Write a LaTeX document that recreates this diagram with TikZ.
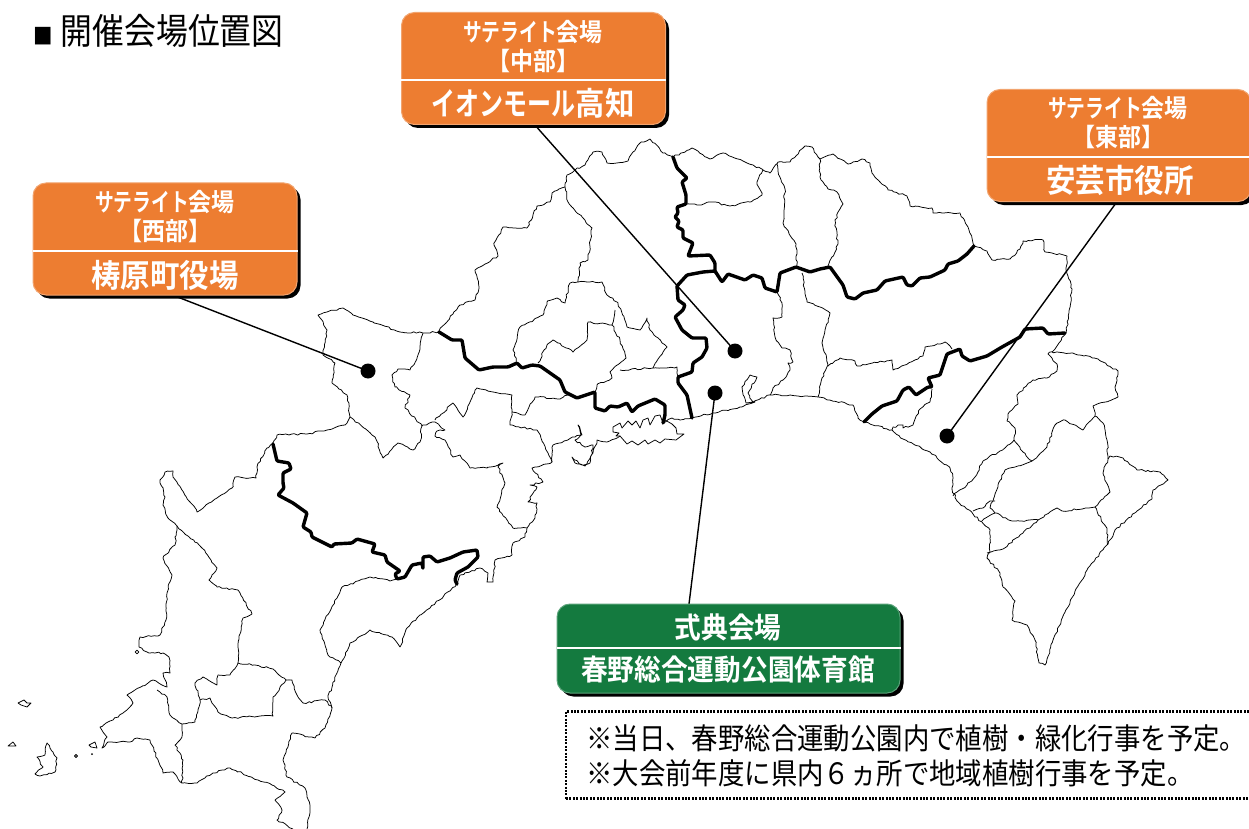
\documentclass[tikz,border=0pt]{standalone}
\usepackage{fontspec}
\usetikzlibrary{shadows,decorations.pathmorphing}
\newfontfamily\jpreg[FakeStretch=0.885]{Noto Sans CJK JP}
\newfontfamily\jpnote[FakeStretch=0.895]{Noto Sans CJK JP}
\newfontfamily\jpbold[FakeStretch=0.92]{Noto Sans CJK JP Bold}
\newfontfamily\jpkana[FakeStretch=0.75]{Noto Sans CJK JP Bold}
\definecolor{venueorange}{HTML}{ED7D31}
\definecolor{venuegreen}{HTML}{147A3F}
\tikzset{
  thinmap/.style={draw=black,line width=0.75pt,line join=round,
     decorate,decoration={random steps,segment length=3pt,amplitude=0.9pt}},
  closedmap/.style={draw=black,line width=0.75pt,line join=round},
  thickmap/.style={draw=black,line width=3.4pt,line join=round,line cap=round,rounded corners=1pt},
  leader/.style={draw=black,line width=1.4pt},
  venuedot/.style={circle,fill=black,minimum size=15pt,inner sep=0pt},
  venuebox/.style={rounded corners=13pt,inner sep=0pt,line width=1pt,
     copy shadow={shadow xshift=3.5pt,shadow yshift=-3.5pt,fill=black,draw=none}},
  orangebox/.style={venuebox,fill=venueorange,draw=venueorange!70!white,minimum width=264pt,minimum height=112pt},
  greenbox/.style={venuebox,fill=venuegreen,draw=venuegreen!70!white,minimum width=343pt,minimum height=89pt},
  sublabel/.style={text=white,font=\jpbold\fontsize{25}{28}\selectfont,inner sep=0pt},
  mainlabel/.style={text=white,font=\jpbold\fontsize{32}{36}\selectfont,inner sep=0pt},
  greenlabel/.style={text=white,font=\jpbold\fontsize{29}{32}\selectfont,inner sep=0pt},
  notetext/.style={anchor=west,inner sep=0pt,font=\jpnote\fontsize{29.5}{32}\selectfont},
  divider/.style={draw=white,line width=1.8pt},
}
\begin{document}
\begin{tikzpicture}[x=1pt,y=-1pt]
\useasboundingbox (0,0) rectangle (1249,829);
% ---------- thin map lines ----------
\draw[thinmap] (692,418)--(713,413)--(740,407)--(755,402)--(746,403)--(742,387)--(750,375)--(757,377)--(748,393)--(753,402)--(770,395)--(790,395)--(818,397)--(853,405)--(858,418)--(864,422)--(892,430)--(903,439)--(930,452)--(950,468)--(953,478)--(952,489)--(957,501)--(973,514)--(990,530)--(990,552)--(987,558)--(1000,573)--(1003,587)--(1015,601)--(1012,620)--(1027,625)--(1035,640)--(1039,663)--(1045,665)--(1053,640)--(1070,602)--(1088,568)--(1108,544)--(1115,530)--(1137,511)--(1152,499)--(1153,490)--(1168,480)--(1160,472)--(1137,470)--(1123,458)--(1110,456)--(1108,459);
\draw[thinmap] (974,246)--(987,251)--(992,260)--(1010,259)--(1020,249)--(1023,241)--(1043,240)--(1045,252)--(1067,256)--(1066,270)--(1072,289)--(1066,333)--(1055,349)--(1048,354)--(1057,364)--(1057,371)--(1047,378)--(1033,380)--(1017,395)--(1018,404)--(1008,414)--(1007,421)--(1015,428)--(1014,440)--(1000,451)--(983,461)--(975,477)--(967,485)--(957,492)--(953,496);
\draw[thinmap] (1014,440)--(1023,452)--(1032,461)--(1047,447)--(1055,425)--(1065,420)--(1083,430)--(1095,416)--(1093,406)--(1118,397)--(1115,387)--(1118,371)--(1098,359)--(1075,354)--(1052,352);
\draw[thinmap] (1032,461)--(1005,470)--(998,485)--(993,501)--(990,508)--(995,513)--(1012,521)--(1038,520)--(1057,508)--(1062,511)--(1095,507)--(1107,495)--(1110,492)--(1103,473)--(1108,459)--(1107,440)--(1103,423)--(1095,416);
\draw[thinmap] (1095,507)--(1107,530)--(1108,544);
\draw[thinmap] (1038,520)--(1023,533)--(1003,549)--(987,553);
\draw[thinmap] (982,521)--(995,513);
\draw[thinmap] (973,511)--(983,508)--(990,501)--(995,501);
\draw[thinmap] (892,430)--(893,427)--(903,425)--(903,428)--(913,425)--(920,409)--(930,402)--(932,389);
\draw[thinmap] (828,366)--(840,358)--(855,361)--(857,366)--(892,360)--(893,370)--(923,356)--(925,347)--(945,342)--(952,349);
\draw[thinmap] (802,273)--(807,302)--(820,307)--(830,313)--(822,343)--(828,365)--(822,378)--(818,397);
\draw[thinmap] (777,292)--(782,303)--(782,317)--(773,318)--(775,337)--(782,348)--(790,350)--(793,362)--(788,363)--(790,370)--(783,380)--(773,388)--(770,395);
\draw[thinmap] (673,157)--(692,148)--(710,159)--(723,153)--(745,162)--(763,170)--(770,173)--(778,162)--(790,162)--(805,146)--(812,147)--(818,157)--(820,159)--(833,154)--(848,164)--(862,159)--(870,163)--(872,173)--(888,190)--(907,196)--(910,206)--(932,208)--(933,213)--(960,213)--(968,227)--(974,246);
\draw[thinmap] (820,159)--(820,177)--(828,189)--(837,192)--(843,204)--(835,220)--(838,244)--(828,266);
\draw[thinmap] (777,164)--(778,171)--(785,189)--(783,223)--(796,244)--(797,267);
\draw[thinmap] (763,170)--(757,182)--(762,195)--(750,202)--(730,206)--(713,202)--(697,205)--(686,204);
\draw[thinmap] (673,157)--(663,153)--(650,139)--(640,143)--(633,152)--(628,161)--(617,163)--(607,163)--(602,152)--(593,152)--(585,165)--(575,170)--(567,175)--(565,187)--(552,193)--(550,202)--(537,206)--(527,228)--(503,227)--(494,245)--(498,256)--(475,270)--(479,287)--(475,300)--(460,305)--(439,331);
\draw[thinmap] (565,187)--(568,202)--(592,228)--(588,260)--(580,263)--(578,282)--(570,283)--(565,303)--(557,298)--(547,302)--(543,315)--(520,327)--(513,350)--(517,363);
\draw[thinmap] (578,282)--(602,282)--(607,295)--(618,303)--(627,327)--(640,330)--(647,318)--(650,330)--(667,347)--(653,368);
\draw[thinmap] (615,310)--(612,325)--(620,340)--(626,358)--(610,372)--(612,378)--(597,385)--(595,392);
\draw[thinmap] (612,325)--(588,322)--(587,340)--(573,352)--(553,340)--(547,345)--(538,363);
\draw[thinmap] (620,370)--(653,368)--(677,367)--(678,377);
\draw[thinmap] (439,332)--(423,333)--(400,332)--(373,322)--(353,315)--(343,308)--(327,312)--(318,315)--(327,330)--(323,355)--(335,363)--(332,383)--(347,395)--(350,417)--(345,425)--(327,430)--(307,434)--(277,435)--(273,443)--(267,448)--(257,467)--(256,478)--(235,477)--(232,488)--(217,498)--(197,512)--(190,502)--(173,477)--(173,471)--(165,472)--(160,480)--(165,497)--(163,505)--(168,518)--(177,526)--(175,545)--(163,558)--(172,575)--(167,593)--(166,620)--(160,635)--(140,637)--(139,647)--(147,652)--(155,653)--(163,653)--(169,657)--(170,673)--(163,673)--(167,687)--(153,680)--(127,695)--(133,703)--(123,713)--(113,720)--(100,727)--(107,737)--(102,748)--(108,742)--(130,742)--(137,738)--(150,740)--(163,773)--(173,772)--(182,783)--(197,783)--(213,773)--(230,768)--(258,780)--(272,785)--(285,792)--(275,800)--(282,810)--(277,820)--(293,829);
\draw[thinmap] (177,526)--(202,548)--(217,568)--(209,580)--(217,587)--(238,590)--(252,614)--(243,618)--(238,647)--(238,663)--(230,675)--(218,675)--(217,685)--(203,677)--(195,683)--(200,700)--(195,722)--(182,724)--(170,715)--(167,697)--(157,690);
\draw[thinmap] (182,724)--(182,737)--(175,745)--(183,760)--(182,783);
\draw[thinmap] (200,700)--(210,698)--(218,712)--(232,718)--(260,716)--(273,716)--(273,697)--(286,680)--(292,680)--(297,695)--(303,703)--(325,700)--(332,708);
\draw[thinmap] (238,663)--(255,665)--(273,669)--(286,680);
\draw[thinmap] (341,663)--(332,687)--(328,697)--(332,708)--(325,728)--(315,738)--(292,733)--(283,760)--(287,777)--(305,788)--(310,808)--(307,829);
\draw[thinmap] (341,663)--(328,655)--(320,630)--(342,587)--(370,577)--(390,581)--(397,579);
\draw[thinmap] (341,663)--(350,643)--(370,630)--(392,637)--(400,647)--(407,628)--(417,618)--(430,608)--(457,584)--(460,575)--(480,568)--(488,573)--(487,582)--(493,582)--(495,560)--(512,555)--(513,543)--(525,537)--(527,528);
\draw[thinmap] (527,528)--(513,528)--(497,507)--(505,483)--(498,467)--(503,463)--(487,468)--(470,468)--(460,455)--(453,457)--(445,440)--(435,436)--(437,431)--(445,430)--(435,422)--(422,426)--(420,442)--(413,450)--(398,443)--(383,458)--(375,437)--(350,417);
\draw[thinmap] (422,426)--(405,408)--(410,395)--(395,387)--(392,375)--(398,369)--(410,370)--(417,358)--(423,333);
\draw[thinmap] (435,420)--(453,403)--(463,417)--(477,388)--(493,392)--(512,395)--(512,412)--(525,415)--(535,397)--(560,399)--(568,395);
\draw[thinmap] (512,412)--(510,425)--(537,430)--(548,453)--(552,462);
\draw[thinmap] (527,528)--(535,518)--(537,503)--(528,502)--(537,487)--(530,485)--(543,482)--(532,468)--(552,462)--(553,445)--(575,437)--(582,435)--(578,425)--(581,435)--(575,440)--(585,447)--(593,445)--(590,463)--(582,465)--(572,457)--(575,463)--(585,466)--(593,453)--(597,440)--(607,442)--(620,436);
\draw[closedmap] (613,427)--(620,423)--(622,428)--(628,421)--(632,425)--(636,421)--(640,428)--(643,420)--(648,418)--(650,425)--(655,416)--(660,415)--(663,423)--(665,420)--(672,424)--(676,428)--(677,434)--(684,434)--(676,440)--(665,439)--(660,443)--(655,440)--(648,444)--(645,440)--(638,445)--(632,441)--(627,444)--(620,436)--(616,436)--(619,433)--(613,432)--cycle;
\draw[thinmap] (663,423)--(672,418)--(680,420)--(692,418);
\draw[closedmap] (18,703)--(24,700)--(27,703)--(31,703)--(27,707)--(21,705)--cycle;
\draw[closedmap] (8,746)--(13,742)--(16,746)--cycle;
\draw[thinmap] (47,743)--(50,748)--(53,752)--(57,758)--(55,772)--(40,776)--(35,774)--(43,767)--(37,757)--(45,755)--cycle;
\draw[closedmap] (76,756) circle (1.5);
\fill (92,754) circle (1);
\draw[closedmap] (89,745)--(95,742)--(97,748)--(91,747)--cycle;
\draw[closedmap] (137,652) circle (1.8);
% ---------- thick boundaries ----------
\draw[thickmap] (273,444)--(277,461)--(289,463)--(291,469)--(283,473)--(283,483)--(284,488)--(278,495)--(293,503)--(307,513)--(303,527)--(311,532)--(312,537)--(332,547)--(334,544)--(352,543)--(357,539)--(375,544)--(372,552)--(385,555)--(387,562)--(400,571)--(395,574)--(397,579)--(405,577)--(412,565)--(422,563)--(423,569)--(423,557)--(430,556)--(437,562)--(450,558)--(463,552)--(477,550)--(478,557)--(468,567)--(457,573)--(455,580)--(457,584);
\draw[thickmap] (439,332)--(452,340)--(462,340)--(465,358)--(479,370)--(493,367)--(508,367)--(517,363)--(522,368)--(532,365)--(540,366)--(560,380)--(565,392)--(577,398)--(595,392)--(595,408)--(605,411)--(610,406)--(618,407)--(627,403)--(632,412)--(638,406)--(655,399)--(665,405)--(665,415)--(663,423);
\draw[thickmap] (673,157)--(677,168)--(687,178)--(682,182)--(686,195)--(686,204)--(677,207)--(678,213)--(675,217)--(679,221)--(677,227)--(683,230)--(683,238)--(693,243)--(688,256)--(710,255)--(715,263)--(715,272);
\draw[thickmap] (677,286)--(687,275)--(703,272)--(715,271)--(722,282)--(728,274)--(745,280)--(753,275)--(762,278)--(765,288)--(777,292)--(780,273)--(796,267)--(810,272)--(820,269)--(830,267)--(843,285)--(847,297)--(855,299)--(863,293)--(877,290)--(885,281)--(903,277)--(907,285)--(912,286)--(920,278)--(930,277)--(945,270)--(948,264)--(958,261)--(967,254)--(974,246);
\draw[thickmap] (677,286)--(678,300)--(685,305)--(683,310)--(675,317)--(682,330)--(692,338)--(706,338)--(707,348)--(702,357)--(693,363)--(692,372)--(678,377)--(678,383)--(687,395)--(692,418);
\draw[thickmap] (864,422)--(872,414)--(882,406)--(897,401)--(903,390)--(909,387)--(916,395)--(928,387)--(932,387)--(928,378)--(940,375)--(947,354)--(960,349)--(962,356)--(970,361)--(987,356)--(1002,347)--(1020,337)--(1025,329)--(1043,328)--(1048,334)--(1065,333);
% ---------- venue dots ----------
\node[venuedot] (dotwest) at (368,371) {};
\node[venuedot] (dotcentre) at (735,351) {};
\node[venuedot] (dotmain) at (715,393) {};
\node[venuedot] (doteast) at (947,436) {};
% ---------- anchors for the leaders ----------
\coordinate (tailwest) at (175,296);
\coordinate (tailcentre) at (534,124);
\coordinate (taileast) at (1116,203);
\coordinate (tailmain) at (689,604);
\draw[leader] (tailwest) -- (dotwest.center);
\draw[leader] (tailcentre) -- (dotcentre.center);
\draw[leader] (taileast) -- (doteast.center);
\draw[leader] (tailmain) -- (dotmain.center);
% ---------- title ----------
\node[anchor=west,inner sep=0pt,font=\jpreg\fontsize{36}{40}\selectfont] (title) at (33,31) {{\fontsize{22}{22}\selectfont ■}\hspace{8pt}開催会場位置図};
% ---------- venue boxes ----------
\node[orangebox] (boxwest) at (165,239) {};
\draw[divider] (boxwest.west |- 0,251) coordinate (dwa) -- (boxwest.east |- 0,251) coordinate (dwb);
\node[sublabel] (w1) at (165,202) {{\jpkana サテライト}会場};
\node[sublabel] (w2) at (165,231) {【西部】};
\node[mainlabel] (w3) at (165,275) {梼原町役場};
\node[orangebox] (boxcentre) at (533.5,68.5) {};
\draw[divider] (boxcentre.west |- 0,80) coordinate (dca) -- (boxcentre.east |- 0,80) coordinate (dcb);
\node[sublabel] (c1) at (533,32) {{\jpkana サテライト}会場};
\node[sublabel] (c2) at (533,61) {【中部】};
\node[mainlabel] (c3) at (533,103) {{\jpkana イオンモール}高知};
\node[orangebox] (boxeast) at (1119,145.5) {};
\draw[divider] (boxeast.west |- 0,157) coordinate (dea) -- (boxeast.east |- 0,157) coordinate (deb);
\node[sublabel] (e1) at (1118,108) {{\jpkana サテライト}会場};
\node[sublabel] (e2) at (1118,137) {【東部】};
\node[mainlabel] (e3) at (1120,180) {安芸市役所};
\node[greenbox] (boxmain) at (728.5,648.5) {};
\draw[divider] (boxmain.west |- 0,648) coordinate (dma) -- (boxmain.east |- 0,648) coordinate (dmb);
\node[greenlabel] (m1) at (728,627) {式典会場};
\node[greenlabel] (m2) at (728,670) {春野総合運動公園体育館};
% ---------- note ----------
\node[draw=black,line width=2.2pt,dash pattern=on 2pt off 1.4pt,minimum width=684pt,minimum height=87pt,inner sep=0pt] (notebox) at (908,755) {};
\node[notetext] (n1) at (586,738) {※当日、春野総合運動公園内で植樹・緑化行事を予定。};
\node[notetext] (n2) at (586,773) {※大会前年度に県内６ヵ所で地域植樹行事を予定。};
\end{tikzpicture}
\end{document}
